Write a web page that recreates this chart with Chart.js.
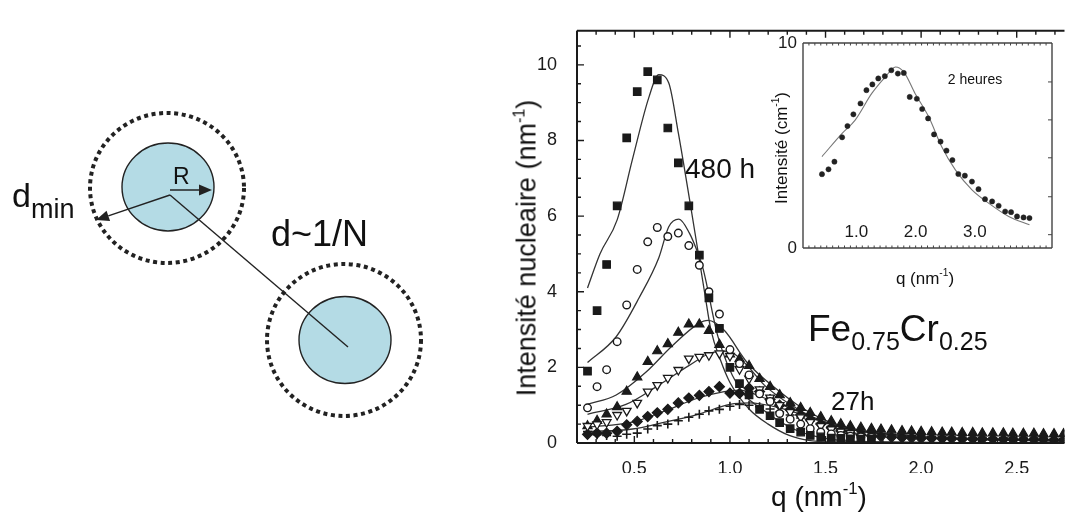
<!DOCTYPE html>
<html lang="fr">
<head>
<meta charset="UTF-8">
<title>Fe0.75Cr0.25 - intensité nucléaire</title>
<script src="https://cdn.jsdelivr.net/npm/chart.js"></script>
<style>
    body {
        margin: 0;
        width: 1071px;
        height: 514px;
        position: relative;
        overflow: hidden;
        background: #fff;
        font-family: "Liberation Sans", Arial, sans-serif;
        color: #111;
    }
    canvas, .lbl { position: absolute; }
    #diagram { left: 0; top: 0; }
    #main { left: 480px; top: 0; }
    #inset { left: 755px; top: 25px; }
    .lbl { white-space: nowrap; line-height: 1; }
    .rot { transform: translate(-50%, -50%) rotate(-90deg); }
    .ctr { transform: translate(-50%, -50%); }
    sup { font-size: 0.6em; vertical-align: 0.7em; line-height: 0; }
    .sub { position: relative; }
</style>
</head>
<body>
<canvas id="diagram" width="480" height="514"></canvas>
<canvas id="main" width="591" height="514"></canvas>
<canvas id="inset" width="316" height="275"></canvas>

<!-- particle sketch labels -->
<div class="lbl" style="left:173px; top:165px; font-size:23px;">R</div>
<div class="lbl" style="left:12px; top:178px; font-size:34px;">d<span class="sub" style="font-size:27px; top:11px;">min</span></div>
<div class="lbl" style="left:271px; top:216px; font-size:36px;">d~1/N</div>

<!-- main plot labels -->
<div class="lbl rot" style="left:527px; top:248px; font-size:27px;">Intensité nucleaire (nm<sup>-1</sup>)</div>
<div class="lbl" style="left:819px; top:483px; font-size:28px; transform:translateX(-50%);">q (nm<sup>-1</sup>)</div>
<div class="lbl" style="left:685px; top:155px; font-size:28px;">480 h</div>
<div class="lbl" style="left:831px; top:388px; font-size:26px;">27h</div>
<div class="lbl" style="left:808px; top:310px; font-size:37px;">Fe<span class="sub" style="font-size:25px; top:9px;">0.75</span>Cr<span class="sub" style="font-size:25px; top:9px;">0.25</span></div>

<!-- inset labels -->
<div class="lbl rot" style="left:781px; top:148px; font-size:17px;">Intensité (cm<sup>-1</sup>)</div>
<div class="lbl ctr" style="left:925px; top:278px; font-size:17px;">q (nm<sup>-1</sup>)</div>
<div class="lbl ctr" style="left:975px; top:79px; font-size:14px;">2 heures</div>

<script>
    // ---- main plot: nuclear intensity vs q, one series per ageing time ----
    const qGrid = [0.255, 0.305, 0.355, 0.41, 0.46, 0.515, 0.57, 0.62, 0.675, 0.73, 0.785, 0.84,
        0.89, 0.945, 1.0, 1.05, 1.1, 1.155, 1.21, 1.26, 1.315, 1.37, 1.42, 1.475,
        1.53, 1.58, 1.63, 1.685, 1.74, 1.79, 1.845, 1.9, 1.95, 2.0, 2.055, 2.11,
        2.16, 2.215, 2.27, 2.32, 2.375, 2.43, 2.48, 2.535, 2.59, 2.64, 2.695, 2.745];

    // filled squares (480 h)
    const iSquares = [1.90, 3.50, 4.72, 6.27, 8.07, 9.29, 9.82, 9.60, 8.33, 7.41, 6.27, 4.97,
        3.84, 3.03, 2.00, 1.57, 1.27, 0.89, 0.72, 0.54, 0.38, 0.29, 0.20, 0.16,
        0.13, 0.12, 0.11, 0.10, 0.10, null, null, null, null, null, null, null,
        null, null, null, null, null, null, null, null, null, null, null, null];
    // open circles
    const iCircles = [0.93, 1.49, 1.94, 2.68, 3.65, 4.59, 5.32, 5.70, 5.46, 5.55, 5.22, 4.70,
        4.00, 3.41, 2.47, 2.10, 1.80, 1.30, 1.10, 0.78, 0.63, 0.50, 0.38, 0.29,
        0.24, 0.20, 0.18, 0.16, 0.15, null, null, null, null, null, null, null,
        null, null, null, null, null, null, null, null, null, null, null, null];
    // filled triangles
    const iTriUp = [0.45, 0.59, 0.76, 0.95, 1.36, 1.74, 2.15, 2.43, 2.62, 2.92, 3.14, 3.14,
        2.97, 2.60, 2.35, 2.22, 2.04, 1.70, 1.49, 1.27, 1.06, 0.93, 0.80, 0.69,
        0.58, 0.50, 0.45, 0.41, 0.38, 0.36, 0.34, 0.32, 0.31, 0.30, 0.29, 0.28,
        0.28, 0.27, 0.27, 0.26, 0.26, 0.26, 0.25, 0.25, 0.25, 0.24, 0.24, 0.24];
    // open inverted triangles
    const iTriDown = [0.45, 0.49, 0.55, 0.74, 0.85, 1.06, 1.36, 1.53, 1.72, 1.93, 2.23, 2.28,
        2.32, 2.37, 2.30, 1.95, 1.70, 1.42, 1.20, 1.00, 0.82, 0.68, 0.55, 0.45,
        0.36, 0.30, 0.26, null, null, null, null, null, null, null, null, null,
        null, null, null, null, null, null, null, null, null, null, null, null];
    // filled diamonds
    const iDiamonds = [0.23, 0.26, 0.26, 0.31, 0.48, 0.57, 0.70, 0.80, 0.89, 1.06, 1.19, 1.26,
        1.36, 1.49, 1.32, 1.31, 1.45, 1.36, 1.15, 1.00, 0.88, 0.74, 0.62, 0.50,
        0.40, 0.32, 0.26, 0.22, 0.19, 0.17, 0.15, 0.14, 0.13, 0.12, 0.12, 0.11,
        0.11, 0.10, 0.10, 0.10, 0.10, 0.09, 0.09, 0.09, 0.09, 0.09, 0.08, 0.08];
    // crosses (27 h)
    const iPlus = [0.30, 0.22, 0.20, 0.18, 0.23, 0.26, 0.37, 0.46, 0.50, 0.59, 0.68, 0.76,
        0.85, 0.89, 0.97, 1.02, 1.00, 0.96, 0.90, 0.82, 0.74, 0.66, 0.58, 0.50,
        0.44, 0.38, 0.34, 0.30, 0.27, 0.25, 0.23, 0.21, 0.20, 0.19, 0.18, 0.17,
        0.16, 0.16, 0.15, 0.15, 0.14, 0.14, 0.14, 0.13, 0.13, 0.13, 0.12, 0.12];

    // model curves
    const fitSquaresQ = [0.255, 0.32, 0.41, 0.49, 0.576, 0.628, 0.68, 0.73, 0.79, 0.835, 0.87, 0.9, 0.95, 1.0, 1.1, 1.2, 1.31, 1.42, 1.55, 2.75];
    const fitSquaresI = [4.1, 5.0, 5.9, 7.5, 9.14, 9.74, 9.52, 8.2, 6.4, 5.0, 3.9, 3.0, 2.2, 1.6, 0.9, 0.5, 0.2, 0.06, 0.02, 0.0];
    const fitCirclesQ = [0.255, 0.405, 0.525, 0.628, 0.68, 0.733, 0.788, 0.834, 0.86, 0.937, 1.04, 1.18, 1.35, 1.5, 1.65, 2.75];
    const fitCirclesI = [2.13, 2.81, 3.84, 4.9, 5.72, 5.92, 5.55, 5.0, 4.6, 2.82, 1.53, 0.85, 0.33, 0.12, 0.04, 0.0];
    const fitTriUpQ = [0.255, 0.405, 0.56, 0.696, 0.834, 0.886, 0.97, 1.09, 1.26, 1.35, 1.5, 1.7, 2.0, 2.75];
    const fitTriUpI = [1.02, 1.27, 1.87, 2.56, 3.15, 3.24, 2.98, 2.13, 1.36, 1.02, 0.6, 0.3, 0.15, 0.05];
    const fitTriDownQ = [0.255, 0.456, 0.628, 0.783, 0.9, 0.99, 1.08, 1.18, 1.315, 1.45, 1.6, 1.8, 2.1, 2.75];
    const fitTriDownI = [0.76, 1.02, 1.53, 2.04, 2.38, 2.43, 2.1, 1.53, 1.02, 0.65, 0.4, 0.22, 0.12, 0.05];
    const fitDiamondsQ = [0.255, 0.49, 0.66, 0.834, 0.97, 1.05, 1.18, 1.35, 1.49, 1.7, 2.0, 2.75];
    const fitDiamondsI = [0.42, 0.55, 0.85, 1.19, 1.36, 1.4, 1.19, 0.85, 0.55, 0.3, 0.17, 0.08];
    const fitPlusQ = [0.255, 0.49, 0.66, 0.834, 1.0, 1.1, 1.26, 1.5, 1.7, 2.0, 2.75];
    const fitPlusI = [0.30, 0.37, 0.55, 0.76, 1.02, 1.06, 0.93, 0.55, 0.32, 0.17, 0.07];

    const xTicks = [0.5, 1.0, 1.5, 2.0, 2.5];
    const yTicks = [0, 2, 4, 6, 8, 10];

    // ---- inset: 2 heures ----
    const insetQ = [0.42, 0.53, 0.63, 0.76, 0.85, 0.95, 1.07, 1.17, 1.27, 1.37, 1.48, 1.59,
        1.70, 1.80, 1.90, 2.02, 2.11, 2.21, 2.31, 2.42, 2.52, 2.62, 2.72, 2.83,
        2.95, 3.06, 3.17, 3.29, 3.40, 3.51, 3.61, 3.71, 3.82, 3.92];
    const insetI = [3.60, 3.84, 4.21, 5.40, 5.95, 6.52, 7.05, 7.70, 7.98, 8.27, 8.38, 8.67,
        8.51, 8.54, 7.37, 7.28, 6.78, 6.32, 5.54, 5.19, 4.75, 4.29, 3.61, 3.53,
        3.24, 2.87, 2.38, 2.27, 2.06, 1.78, 1.75, 1.54, 1.49, 1.46];
    const insetFitQ = [0.42, 0.76, 0.98, 1.26, 1.49, 1.66, 1.80, 1.99, 2.22, 2.44, 2.67, 2.95, 3.23, 3.57, 3.92];
    const insetFitI = [4.46, 5.59, 6.24, 7.54, 8.35, 8.83, 8.59, 7.54, 6.40, 4.94, 3.81, 2.84, 2.19, 1.54, 1.13];
    const insetXTicks = [1.0, 2.0, 3.0];
    const insetYTicks = [0, 10];
    const insetRightTicks = [0.65, 2.5, 4.4, 6.25, 8.1];

    const INK = '#1a1a1a';
    const FONT = '"Liberation Sans", Arial, sans-serif';

    function toPoints(xs, ys) {
        const out = [];
        xs.forEach((x, i) => { if (ys[i] !== null) out.push({ x: x, y: ys[i] }); });
        return out;
    }

    function markers(ys, style, extra) {
        return Object.assign({
            data: toPoints(qGrid, ys),
            showLine: false,
            pointStyle: style,
            pointRadius: 4.5,
            pointBorderColor: INK,
            pointBackgroundColor: INK,
            pointBorderWidth: 1.2
        }, extra || {});
    }

    function curve(xs, ys, color, width) {
        return {
            data: toPoints(xs, ys),
            showLine: true,
            borderColor: color,
            borderWidth: width,
            pointRadius: 0,
            cubicInterpolationMode: 'monotone',
            fill: false
        };
    }

    // frame plus inward tick marks, positioned through the chart scales;
    // optionally q labels written inside the frame (inset style)
    const frameTicks = {
        id: 'frameTicks',
        afterDraw(chart, args, o) {
            const { ctx, chartArea: a, scales: { x, y } } = chart;
            ctx.save();
            ctx.strokeStyle = o.color;
            ctx.lineWidth = o.frameWidth;
            ctx.beginPath();
            o.sides.forEach(s => {
                if (s === 'left') { ctx.moveTo(a.left, a.top); ctx.lineTo(a.left, a.bottom); }
                if (s === 'right') { ctx.moveTo(a.right, a.top); ctx.lineTo(a.right, a.bottom); }
                if (s === 'top') { ctx.moveTo(a.left, a.top); ctx.lineTo(a.right, a.top); }
                if (s === 'bottom') { ctx.moveTo(a.left, a.bottom); ctx.lineTo(a.right, a.bottom); }
            });
            ctx.stroke();
            ctx.lineWidth = o.tickWidth;
            ctx.beginPath();
            o.xMarks.forEach(m => {
                const px = x.getPixelForValue(m.v);
                const len = m.major ? o.major : o.minor;
                if (o.xSides.includes('top')) { ctx.moveTo(px, a.top); ctx.lineTo(px, a.top + len); }
                if (o.xSides.includes('bottom')) { ctx.moveTo(px, a.bottom); ctx.lineTo(px, a.bottom - len); }
            });
            o.yMarks.forEach(m => {
                const py = y.getPixelForValue(m.v);
                const len = m.major ? o.major : o.minor;
                if (o.ySides.includes('left')) { ctx.moveTo(a.left, py); ctx.lineTo(a.left + len, py); }
                if (o.ySides.includes('right')) { ctx.moveTo(a.right, py); ctx.lineTo(a.right - len, py); }
            });
            ctx.stroke();
            if (o.innerLabels) {
                ctx.fillStyle = INK;
                ctx.font = o.innerLabels.size + 'px ' + FONT;
                ctx.textAlign = 'center';
                ctx.textBaseline = 'alphabetic';
                o.innerLabels.values.forEach(v => {
                    ctx.fillText(v.toFixed(1), x.getPixelForValue(v), a.bottom - o.innerLabels.lift);
                });
            }
            ctx.restore();
        }
    };

    // tick mark positions: 0.1 steps along q, 0.5 steps along intensity
    const mainXMarks = [];
    for (let k = 2; k <= 27; k++) mainXMarks.push({ v: k / 10, major: k % 5 === 0 });
    const mainYMarks = [];
    for (let k = 1; k <= 21; k++) mainYMarks.push({ v: k / 2, major: k % 4 === 0 });

    new Chart(document.getElementById('main'), {
        type: 'scatter',
        data: {
            datasets: [
                markers(iSquares, 'rect', { pointRadius: 5.3 }),
                markers(iCircles, 'circle', { pointRadius: 3.8, pointBackgroundColor: '#fff', pointBorderWidth: 1.4 }),
                markers(iTriDown, 'triangle', { pointRadius: 5, pointRotation: 180, pointBackgroundColor: '#fff', pointBorderWidth: 1.3 }),
                markers(iTriUp, 'triangle', { pointRadius: 5.3 }),
                markers(iDiamonds, 'rectRot', { pointRadius: 5 }),
                markers(iPlus, 'cross', { pointRadius: 4.5, pointBorderWidth: 1.6 }),
                curve(fitSquaresQ, fitSquaresI, '#333', 1.3),
                curve(fitCirclesQ, fitCirclesI, '#333', 1.3),
                curve(fitTriUpQ, fitTriUpI, '#333', 1.3),
                curve(fitTriDownQ, fitTriDownI, '#333', 1.3),
                curve(fitDiamondsQ, fitDiamondsI, '#333', 1.3),
                curve(fitPlusQ, fitPlusI, '#333', 1.3)
            ]
        },
        options: {
            responsive: false,
            animation: false,
            events: [],
            layout: { padding: { left: 0, top: 17, right: 0, bottom: 41 } },
            plugins: {
                legend: { display: false },
                tooltip: { enabled: false },
                frameTicks: {
                    color: INK, frameWidth: 2, tickWidth: 1.4, major: 7, minor: 4,
                    sides: ['left', 'top', 'bottom'],
                    xMarks: mainXMarks, xSides: ['top', 'bottom'],
                    yMarks: mainYMarks, ySides: ['left']
                }
            },
            scales: {
                x: {
                    type: 'linear', min: 0.2, max: 2.75,
                    grid: { display: false, drawTicks: false }, border: { display: false },
                    afterBuildTicks(s) { s.ticks = xTicks.map(v => ({ value: v })); },
                    afterFit(s) { s.height = 30; },
                    ticks: {
                        padding: 15, color: INK, maxRotation: 0, autoSkip: false,
                        font: { family: FONT, size: 18 },
                        callback: v => v.toFixed(1)
                    }
                },
                y: {
                    type: 'linear', min: 0, max: 10.9,
                    grid: { display: false, drawTicks: false }, border: { display: false },
                    afterBuildTicks(s) { s.ticks = yTicks.map(v => ({ value: v })); },
                    afterFit(s) { s.width = 97; },
                    ticks: { padding: 20, color: INK, autoSkip: false, font: { family: FONT, size: 18 } }
                }
            }
        },
        plugins: [frameTicks]
    });

    const insetXMarks = [];
    for (let k = 2; k <= 42; k++) insetXMarks.push({ v: k / 10, major: false });
    const insetYMarks = insetRightTicks.map(v => ({ v: v, major: true }));

    new Chart(document.getElementById('inset'), {
        type: 'scatter',
        data: {
            datasets: [
                {
                    data: toPoints(insetQ, insetI),
                    showLine: false,
                    pointStyle: 'circle',
                    pointRadius: 2.6,
                    pointBackgroundColor: '#222',
                    pointBorderColor: '#222',
                    pointBorderWidth: 0.5
                },
                {
                    data: toPoints(insetFitQ, insetFitI),
                    showLine: true,
                    borderColor: '#777',
                    borderWidth: 1.1,
                    pointRadius: 0,
                    cubicInterpolationMode: 'monotone',
                    fill: false
                }
            ]
        },
        options: {
            responsive: false,
            animation: false,
            events: [],
            layout: { padding: { left: 0, top: 18, right: 19, bottom: 42 } },
            plugins: {
                legend: { display: false },
                tooltip: { enabled: false },
                frameTicks: {
                    color: '#444', frameWidth: 1.4, tickWidth: 1, major: 4, minor: 2.5,
                    sides: ['left', 'top', 'right', 'bottom'],
                    xMarks: insetXMarks, xSides: ['top', 'bottom'],
                    yMarks: insetYMarks, ySides: ['right'],
                    innerLabels: { values: insetXTicks, size: 17, lift: 11 }
                }
            },
            scales: {
                x: {
                    type: 'linear', min: 0.1, max: 4.3,
                    grid: { display: false, drawTicks: false }, border: { display: false },
                    afterFit(s) { s.height = 10; },
                    ticks: { display: false }
                },
                y: {
                    type: 'linear', min: 0, max: 10,
                    grid: { display: false, drawTicks: false }, border: { display: false },
                    afterBuildTicks(s) { s.ticks = insetYTicks.map(v => ({ value: v })); },
                    afterFit(s) { s.width = 48; },
                    ticks: { padding: 6, color: INK, autoSkip: false, font: { family: FONT, size: 17 } }
                }
            }
        },
        plugins: [frameTicks]
    });

    // ---- particle sketch: two precipitates with their exclusion shells ----
    const dg = document.getElementById('diagram').getContext('2d');

    function particle(cx, cy, rx, ry, hx, hy, hrx, hry) {
        dg.save();
        dg.setLineDash([4, 3.6]);
        dg.lineWidth = 4;
        dg.strokeStyle = '#222';
        dg.beginPath();
        dg.ellipse(hx, hy, hrx, hry, 0, 0, Math.PI * 2);
        dg.stroke();
        dg.restore();

        dg.beginPath();
        dg.ellipse(cx, cy, rx, ry, 0, 0, Math.PI * 2);
        dg.fillStyle = '#b4dbe5';
        dg.fill();
        dg.lineWidth = 1.4;
        dg.strokeStyle = '#222';
        dg.stroke();
    }

    function arrow(x0, y0, x1, y1) {
        const ang = Math.atan2(y1 - y0, x1 - x0);
        const len = 13, half = 5.5;
        const bx = x1 - Math.cos(ang) * len, by = y1 - Math.sin(ang) * len;
        dg.beginPath();
        dg.moveTo(x0, y0);
        dg.lineTo(bx, by);
        dg.lineWidth = 1.5;
        dg.strokeStyle = '#222';
        dg.stroke();
        dg.beginPath();
        dg.moveTo(x1, y1);
        dg.lineTo(bx + Math.sin(ang) * half, by - Math.cos(ang) * half);
        dg.lineTo(bx - Math.sin(ang) * half, by + Math.cos(ang) * half);
        dg.closePath();
        dg.fillStyle = '#222';
        dg.fill();
    }

    particle(168, 187, 46, 44, 167, 188, 77, 75);
    particle(345, 340, 46, 43.5, 344, 340, 77, 76);

    dg.beginPath();
    dg.moveTo(170, 195);
    dg.lineTo(348, 347);
    dg.lineWidth = 1.4;
    dg.strokeStyle = '#222';
    dg.stroke();

    arrow(170, 190, 212, 190);
    arrow(170, 195, 96, 220);
</script>
</body>
</html>
